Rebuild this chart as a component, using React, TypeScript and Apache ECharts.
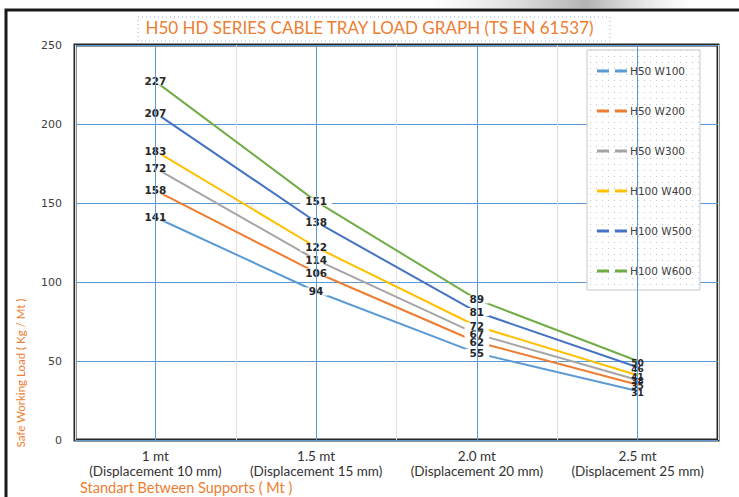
import React, { useEffect, useRef } from "react";
import * as echarts from "echarts";

const categories = [
  "1 mt\n(Displacement 10 mm)",
  "1.5 mt\n(Displacement 15 mm)",
  "2.0 mt\n(Displacement 20 mm)",
  "2.5 mt\n(Displacement 25 mm)",
];
const seriesNames = ["H50 W100", "H50 W200", "H50 W300", "H100 W400", "H100 W500", "H100 W600"];
const h50w100 = [141, 94, 55, 31];
const h50w200 = [158, 106, 62, 35];
const h50w300 = [172, 114, 67, 38];
const h100w400 = [183, 122, 72, 41];
const h100w500 = [207, 138, 81, 46];
const h100w600 = [227, 151, 89, 50];
const seriesValues = [h50w100, h50w200, h50w300, h100w400, h100w500, h100w600];
const colors = ["#5B9BD5", "#ED7D31", "#A5A5A5", "#FFC000", "#4472C4", "#70AD47"];
const yMin = 0;
const yMax = 250;
const yInterval = 50;

function makeDots(): HTMLCanvasElement {
  const c = document.createElement("canvas");
  c.width = 6;
  c.height = 6;
  const ctx = c.getContext("2d")!;
  ctx.fillStyle = "#ffffff";
  ctx.fillRect(0, 0, 6, 6);
  ctx.fillStyle = "#b4c7dc";
  ctx.fillRect(2, 2, 1, 1);
  return c;
}

export default function App() {
  const ref = useRef<HTMLDivElement>(null);
  useEffect(() => {
    document.body.style.margin = "0";
    const chart = echarts.init(ref.current!, undefined, { renderer: "svg" });
    const dots = makeDots();
    const lastIdx = categories.length - 1;
    const lineSeries: any[] = seriesValues.map((vals, i) => ({
      name: seriesNames[i],
      type: "line",
      data: vals.map((v, j) =>
        j === lastIdx
          ? {
              value: v,
              label: {
                backgroundColor: "transparent",
                padding: 0,
                fontSize: 9,
                lineHeight: 5,
                offset: [0, 1.5],
              },
            }
          : v
      ),
      symbol: "circle",
      symbolSize: 1,
      itemStyle: { color: colors[i] },
      lineStyle: { color: colors[i], width: 2 },
      label: {
        show: true,
        position: "inside",
        backgroundColor: "#ffffff",
        padding: [0, 5],
        lineHeight: 8,
        color: "#262626",
        fontSize: 10.5,
        fontWeight: "bold",
        fontFamily: "DejaVu Sans",
      },
      z: 3,
    }));
    lineSeries.unshift({
      name: "grid-v",
      type: "line",
      data: [null, null, null, null],
      z: 1,
      silent: true,
      markLine: {
        silent: true,
        symbol: "none",
        label: { show: false },
        lineStyle: { color: "#5B9BD5", width: 1, type: "solid" },
        data: categories.map((_, i) => ({ xAxis: i })),
      },
    });
    chart.setOption({
      animation: false,
      title: {
        text: "H50 HD SERIES CABLE TRAY LOAD GRAPH (TS EN 61537)",
        left: "center",
        top: 17,
        padding: [2, 4],
        textStyle: { color: "#ED7D31", fontSize: 17, fontWeight: "normal", fontFamily: "Lato" },
      },
      grid: {
        left: 75,
        right: 21,
        top: 45,
        bottom: 57,
        show: true,
        borderColor: "#262626",
        borderWidth: 3,
        backgroundColor: "transparent",
      },
      legend: {
        data: seriesNames,
        orient: "vertical",
        left: 597,
        top: 65,
        itemWidth: 30,
        itemHeight: 3,
        itemGap: 28,
        icon: "path://M0,0h12v3h-12z M18,0h12v3h-12z",
        textStyle: { color: "#404040", fontSize: 10.5, lineHeight: 12, fontFamily: "DejaVu Sans", padding: [0, 0, 0, -2] },
        padding: 0,
        z: 5,
      },
      xAxis: {
        type: "category",
        data: categories,
        boundaryGap: true,
        axisLine: { show: false },
        axisTick: { show: false },
        axisLabel: {
          interval: 0,
          color: "#333333",
          fontSize: 13.5,
          lineHeight: 15,
          fontFamily: "Lato",
          margin: 8,
        },
        splitLine: { show: true, lineStyle: { color: "#e0e0e0", width: 1 } },
      },
      yAxis: {
        type: "value",
        min: yMin,
        max: yMax,
        interval: yInterval,
        axisLine: { show: false },
        axisTick: { show: false },
        axisLabel: { color: "#404040", fontSize: 11, fontFamily: "DejaVu Sans", margin: 13 },
        splitLine: { show: true, lineStyle: { color: "#5B9BD5", width: 1 } },
      },
      graphic: [
        {
          type: "rect",
          shape: { x: 430, y: 0, width: 260, height: 8 },
          style: {
            fill: new echarts.graphic.LinearGradient(0, 0, 1, 0, [
              { offset: 0, color: "rgba(200,200,200,0)" },
              { offset: 0.6, color: "rgba(160,160,160,0.8)" },
              { offset: 1, color: "rgba(200,200,200,0)" },
            ]),
          },
          z: 0,
          silent: true,
        },
        {
          type: "rect",
          shape: { x: 6, y: 10, width: 800, height: 600 },
          style: { fill: "none", stroke: "#1a1a1a", lineWidth: 3 },
          z: 0,
          silent: true,
        },
        {
          type: "rect",
          shape: { x: 138, y: 17, width: 472, height: 24 },
          style: { fill: "none", stroke: "#8fb4e3", lineWidth: 1, lineDash: [1, 3] },
          z: 1,
          silent: true,
        },
        {
          type: "rect",
          shape: { x: 587, y: 50, width: 113, height: 240 },
          style: { fill: { image: dots, repeat: "repeat" } as any, stroke: "#c8c8c8", lineWidth: 1 },
          z: 1,
          silent: true,
        },
        {
          type: "text",
          x: 20,
          y: 373,
          rotation: Math.PI / 2,
          style: {
            text: "Safe Working Load ( Kg / Mt )",
            fill: "#ED7D31",
            fontSize: 11.5,
            fontFamily: "Lato",
            align: "center",
            verticalAlign: "middle",
          },
          z: 2,
        },
        {
          type: "text",
          x: 80,
          y: 487,
          style: {
            text: "Standart Between Supports ( Mt )",
            fill: "#ED7D31",
            fontSize: 14.5,
            fontFamily: "Lato",
            align: "left",
            verticalAlign: "middle",
          },
          z: 2,
        },
      ],
      series: lineSeries,
    });
    return () => chart.dispose();
  }, []);
  return <div ref={ref} style={{ width: 739, height: 497 }} />;
}
